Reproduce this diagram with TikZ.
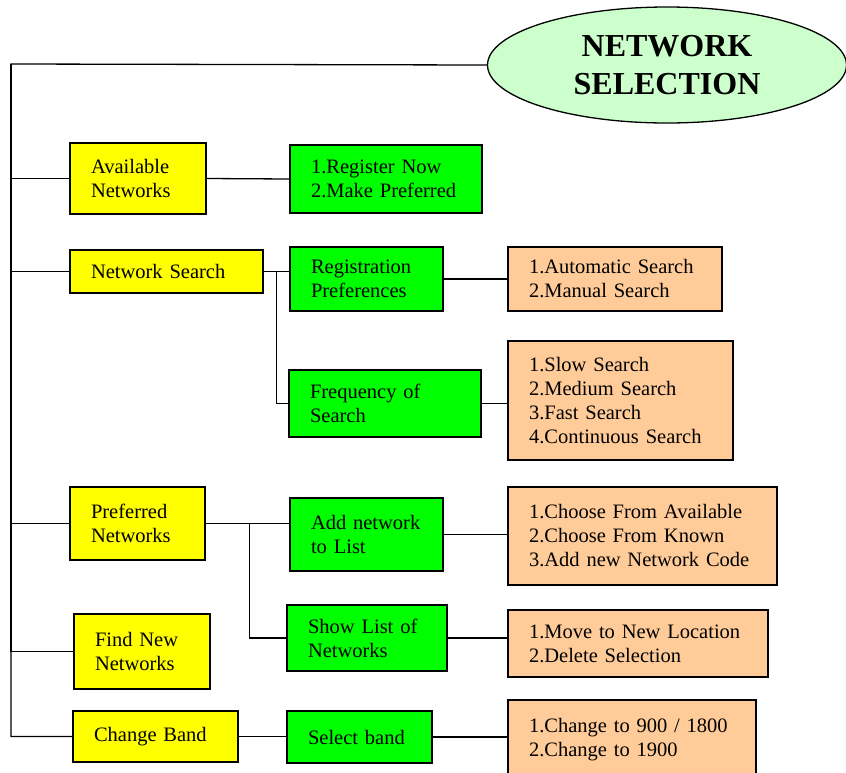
\documentclass[tikz,border=0pt]{standalone}
\usepackage{fontspec}
\setmainfont{Liberation Serif}
\usetikzlibrary{shapes.geometric,calc}
\definecolor{ybox}{HTML}{FFFF00}
\definecolor{gbox}{HTML}{00FF00}
\definecolor{obox}{HTML}{FFCC99}
\definecolor{ellfill}{HTML}{CCFFCC}
\begin{document}
\begin{tikzpicture}[x=1pt,y=-1pt,
  base/.style={draw=black, line width=1.3pt, rectangle, inner xsep=21pt, inner ysep=0pt, align=left,
    font=\fontsize{20.5}{24}\selectfont},
  yb/.style={base, fill=ybox},
  gb/.style={base, fill=gbox},
  ob/.style={base, fill=obox},
  conn/.style={draw=black, line width=1.3pt}]
\useasboundingbox (0,0) rectangle (846,772);
\node[ellipse, draw=black, line width=1.3pt, fill=ellfill, minimum width=359pt, minimum height=116pt,
  inner sep=0pt, align=center, font=\bfseries\fontsize{32}{38}\selectfont] (root) at (667,65) {NETWORK\\SELECTION};
% yellow
\node[yb, text width=94pt, minimum height=71pt] (avail) at (138,178.5) {Available\\Networks};
\node[yb, text width=151pt, minimum height=43pt] (search) at (166.5,271.5) {Network Search};
\node[yb, text width=93pt, minimum height=73pt] (pref) at (137.5,523.5) {Preferred\\Networks};
\node[yb, text width=94pt, minimum height=75pt] (find) at (142,651.5) {Find New\\Networks};
\node[yb, text width=123pt, minimum height=51pt] (band) at (155.5,736.5) {Change Band};
% green
\node[gb, text width=150pt, minimum height=68pt] (reg) at (386,179) {1.Register Now\\2.Make Preferred};
\node[gb, text width=111pt, minimum height=64pt] (regpref) at (366.5,279) {Registration\\Preferences};
\node[gb, text width=150pt, minimum height=67pt] (freq) at (385,403.5) {Frequency of\\Search};
\node[gb, text width=111pt, minimum height=73pt] (add) at (366.5,534.5) {Add network\\to List};
\node[gb, text width=118pt, minimum height=66pt] (show) at (367,638) {Show List of\\Networks};
\node[gb, text width=103pt, minimum height=52pt] (select) at (359.5,737) {Select band};
% orange
\node[ob, text width=172pt, minimum height=64pt] (auto) at (615,279) {1.Automatic Search\\2.Manual Search};
\node[ob, text width=183pt, minimum height=119pt] (slow) at (620.5,400.5) {1.Slow Search\\2.Medium Search\\3.Fast Search\\4.Continuous Search};
\node[ob, text width=227pt, minimum height=98pt] (choose) at (642.5,536) {1.Choose From Available\\2.Choose From Known\\3.Add new Network Code};
\node[ob, text width=218pt, minimum height=67pt] (move) at (638,643.5) {1.Move to New Location\\2.Delete Selection};
\node[ob, text width=206pt, minimum height=80pt] (chg) at (632,740) {1.Change to 900 / 1800\\2.Change to 1900};
% trunk
\coordinate (tr) at (11,64);
\draw[conn] (root.west) -- (tr) -- (tr |- band.west) -- (band.west);
\draw[conn] (tr) |- (avail.west);
\draw[conn] (tr) |- (search.west);
\draw[conn] (tr) |- (pref.west);
\draw[conn] (tr) |- (find.west);
% level 2
\draw[conn] (avail.east) -- (reg.west);
\coordinate (s1) at ($(search.east)+(13,0)$);
\draw[conn] (search.east) -- (search.east -| regpref.west);
\draw[conn] (s1) |- (freq.west);
\coordinate (p1) at ($(pref.east)+(44,0)$);
\draw[conn] (pref.east) -- (pref.east -| add.west);
\draw[conn] (p1) |- (show.west);
\draw[conn] (band.east) -- (band.east -| select.west);
% level 3
\draw[conn] (regpref.east) -- (auto.west);
\draw[conn] (freq.east) -- (freq.east -| slow.west);
\draw[conn] (add.east) -- (add.east -| choose.west);
\draw[conn] (show.east) -- (show.east -| move.west);
\draw[conn] (select.east) -- (select.east -| chg.west);
\end{tikzpicture}
\end{document}
